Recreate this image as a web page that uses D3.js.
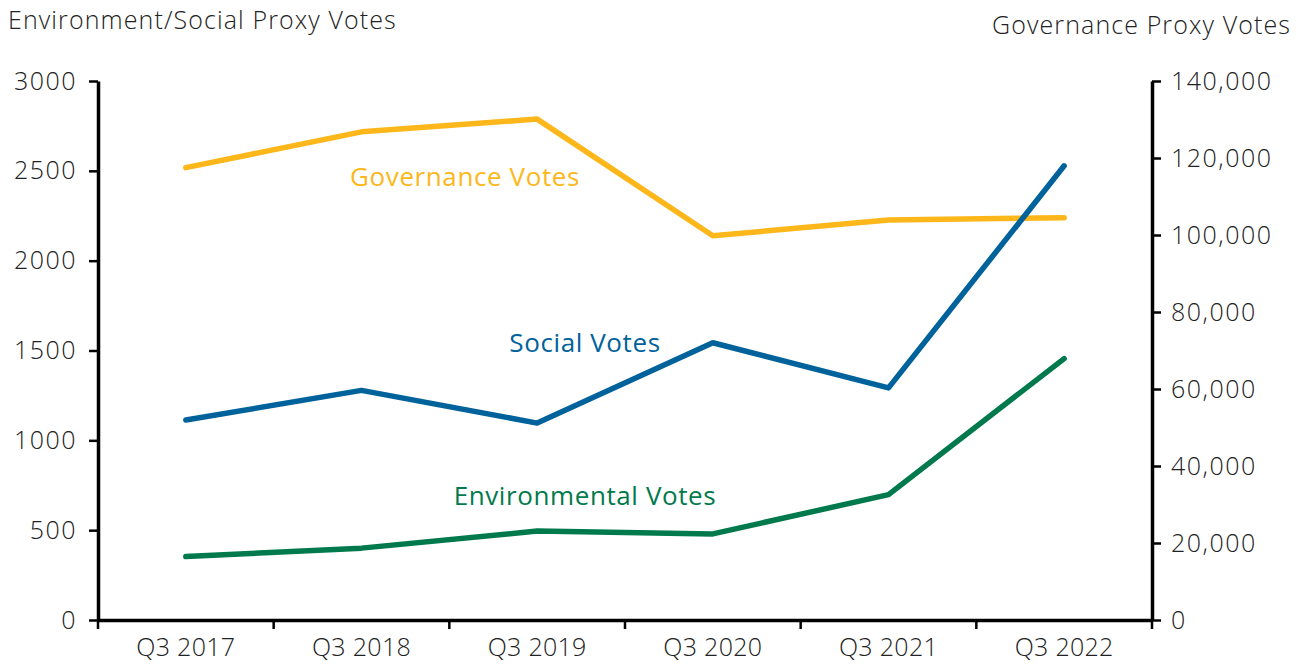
<!DOCTYPE html>
<html lang="en">
<head>
  <meta charset="UTF-8" />
  <title>Proxy Votes</title>
  <script src="https://d3js.org/d3.v7.min.js"></script>
  <style>
    body { margin: 0; background: #fff; font-family: "Open Sans", "Lato", sans-serif; }
    .axis path, .axis line { stroke: #000; }
    .axis text { font-size: 25px; fill: #222; font-family: "Open Sans", sans-serif; font-weight: 300; }
    .y-axis text { letter-spacing: 1.5px; }
    .x-axis text { letter-spacing: 0.3px; }
    .title { font-size: 25px; fill: #222; font-weight: 300; letter-spacing: 1.1px; }
    .series-label { font-size: 26px; font-weight: 400; letter-spacing: 0.6px; }
  </style>
</head>
<body>
  <svg id="chart" width="1306" height="665"></svg>
  <script>
    // data
    const quarters = ["Q3 2017", "Q3 2018", "Q3 2019", "Q3 2020", "Q3 2021", "Q3 2022"];
    const environmental = [353, 400, 495, 479, 698, 1455];
    const social = [1113, 1278, 1096, 1543, 1292, 2528];
    const governance = [117500, 126800, 130100, 99800, 103900, 104500];
    const leftTicks = [0, 500, 1000, 1500, 2000, 2500, 3000];
    const rightTicks = [0, 20000, 40000, 60000, 80000, 100000, 120000, 140000];

    const svg = d3.select("#chart");
    const plotLeft = 98, plotRight = 1152, plotTop = 81, plotBottom = 620;

    const x = d3.scaleBand().domain(quarters).range([plotLeft, plotRight]);
    const yL = d3.scaleLinear().domain([0, 3000]).range([plotBottom, plotTop]);
    const yR = d3.scaleLinear().domain([0, 140000]).range([plotBottom, plotTop]);

    // axes
    const gL = svg.append("g").attr("class", "axis y-axis")
      .attr("transform", `translate(${plotLeft},0)`)
      .call(d3.axisLeft(yL).tickValues(leftTicks).tickSize(9).tickSizeOuter(0).tickPadding(12).tickFormat(d3.format("d")));
    const gR = svg.append("g").attr("class", "axis y-axis")
      .attr("transform", `translate(${plotRight},0)`)
      .call(d3.axisRight(yR).tickValues(rightTicks).tickSize(9).tickSizeOuter(0).tickPadding(10).tickFormat(d3.format(",")));
    const gX = svg.append("g").attr("class", "axis x-axis")
      .attr("transform", `translate(0,${plotBottom})`)
      .call(d3.axisBottom(x).tickSize(0).tickSizeOuter(0).tickPadding(18));

    // boundary ticks on x axis
    const bounds = quarters.map(q => x(q)).concat([x.range()[1]]);
    gX.selectAll(".bound").data(bounds).enter().append("line")
      .attr("class", "bound")
      .attr("x1", d => d).attr("x2", d => d)
      .attr("y1", 0).attr("y2", 9)
      .attr("stroke", "#000").attr("stroke-width", 2.5);

    [gL, gR, gX].forEach(g => {
      g.select(".domain").attr("stroke-width", 3.5);
      g.selectAll(".tick line").attr("stroke-width", 2.5);
    });

    // titles
    svg.append("text").attr("class", "title")
      .attr("x", 8).attr("y", 29).text("Environment/Social Proxy Votes");
    svg.append("text").attr("class", "title")
      .attr("x", 1291).attr("y", 34).attr("text-anchor", "end").text("Governance Proxy Votes");

    const cx = d => x(d) + x.bandwidth() / 2;

    const series = [
      { values: governance, y: yR, color: "#FDB71A", label: "Governance Votes", lx: 465, ly: 186 },
      { values: social, y: yL, color: "#00629B", label: "Social Votes", lx: 585, ly: 352 },
      { values: environmental, y: yL, color: "#007A4D", label: "Environmental Votes", lx: 585, ly: 505 }
    ];

    series.forEach(s => {
      const line = d3.line()
        .x((d, i) => cx(quarters[i]))
        .y(d => s.y(d));
      svg.append("path")
        .datum(s.values)
        .attr("fill", "none")
        .attr("stroke", s.color)
        .attr("stroke-width", 5.5)
        .attr("stroke-linecap", "round")
        .attr("stroke-linejoin", "round")
        .attr("d", line);
      svg.append("text").attr("class", "series-label")
        .attr("x", s.lx).attr("y", s.ly)
        .attr("text-anchor", "middle")
        .attr("fill", s.color)
        .text(s.label);
    });
  </script>
</body>
</html>
